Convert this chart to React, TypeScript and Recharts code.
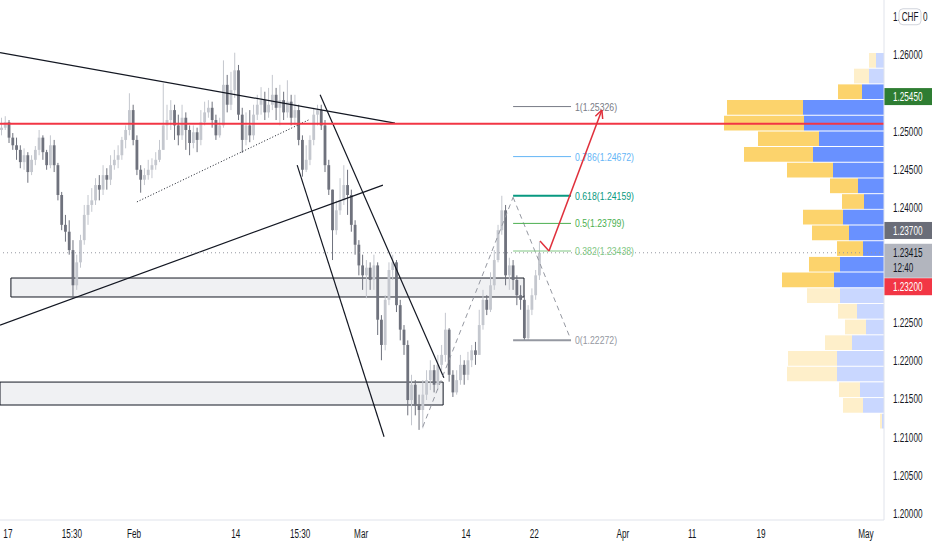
import React from 'react';
import { ComposedChart, Bar, XAxis, YAxis, ReferenceLine, ReferenceArea } from 'recharts';

// GBPCHF candles (close / high / low), open = previous close
const firstOpen = 1.2502;
const closes = [
  1.2505, 1.2512, 1.2492, 1.2482, 1.2476, 1.246, 1.2469, 1.2447, 1.2463, 1.2476,
  1.2492, 1.2473, 1.2456, 1.2482, 1.2456, 1.2417, 1.2378, 1.2369, 1.2345, 1.2299,
  1.2329, 1.2358, 1.2391, 1.2404, 1.241, 1.243, 1.2424, 1.2443, 1.2437, 1.2456,
  1.2463, 1.2469, 1.2489, 1.2502, 1.2528, 1.2489, 1.245, 1.2437, 1.2443, 1.245,
  1.2456, 1.2463, 1.2476, 1.2508, 1.2515, 1.2528, 1.2508, 1.2495, 1.2518, 1.2502,
  1.2485, 1.2499, 1.2489, 1.2512, 1.2525, 1.2531, 1.2515, 1.2495, 1.2508, 1.2561,
  1.2535, 1.2554, 1.258, 1.2522, 1.2489, 1.2508, 1.2495, 1.2522, 1.2535, 1.2541,
  1.2525, 1.2535, 1.2548, 1.2531, 1.2541, 1.2525, 1.2539, 1.2518, 1.2528, 1.2489,
  1.245, 1.2463, 1.2489, 1.2522, 1.2528, 1.2508, 1.2456, 1.2424, 1.2371, 1.2397,
  1.241, 1.243, 1.2417, 1.2378, 1.2352, 1.2325, 1.2312, 1.2322, 1.2306, 1.2325,
  1.2254, 1.2221, 1.228, 1.2319, 1.2329, 1.2273, 1.2241, 1.2221, 1.2149, 1.2169,
  1.2142, 1.2136, 1.2156, 1.2175, 1.2188, 1.2169, 1.2195, 1.2208, 1.2241, 1.2182,
  1.2159, 1.2175, 1.2195, 1.2182, 1.2201, 1.2214, 1.2208, 1.2247, 1.228, 1.2267,
  1.2299, 1.2332, 1.2371, 1.2397, 1.2312, 1.2325, 1.2306, 1.2286, 1.228, 1.223,
  1.2267, 1.2286, 1.2312, 1.23415,
];
const highs = [
  1.2518, 1.252, 1.2515, 1.2498, 1.2492, 1.2482, 1.2478, 1.2473, 1.2469, 1.2481,
  1.2502, 1.2495, 1.2476, 1.2495, 1.2489, 1.2459, 1.2421, 1.2391, 1.2384, 1.2358,
  1.2339, 1.2365, 1.2404, 1.2417, 1.2426, 1.2439, 1.2443, 1.2456, 1.2452, 1.2469,
  1.2476, 1.2482, 1.2493, 1.2508, 1.255, 1.2535, 1.2495, 1.2456, 1.2452, 1.2463,
  1.2465, 1.2473, 1.2489, 1.2563, 1.2535, 1.2541, 1.2535, 1.2522, 1.2535, 1.2525,
  1.2508, 1.2508, 1.2505, 1.2528, 1.2539, 1.2541, 1.2539, 1.2522, 1.2518, 1.2593,
  1.2574, 1.2578, 1.2603, 1.2587, 1.2531, 1.2525, 1.2528, 1.2535, 1.2548, 1.2558,
  1.2552, 1.2557, 1.2574, 1.2557, 1.2561, 1.2552, 1.2567, 1.2548, 1.2548, 1.2535,
  1.2495, 1.2482, 1.2495, 1.2531, 1.2535, 1.2535, 1.2515, 1.2463, 1.2424, 1.241,
  1.2439, 1.2456, 1.245, 1.2424, 1.2384, 1.2358, 1.2339, 1.2332, 1.2329, 1.2339,
  1.2329, 1.226, 1.2286, 1.2329, 1.2339, 1.2332, 1.228, 1.2247, 1.2227, 1.2182,
  1.2175, 1.2156, 1.2175, 1.2188, 1.2201, 1.2195, 1.2208, 1.2221, 1.2263, 1.2243,
  1.2188, 1.2188, 1.2208, 1.2201, 1.2212, 1.2221, 1.2225, 1.2267, 1.2293, 1.2286,
  1.2316, 1.2345, 1.2378, 1.2416, 1.2404, 1.2335, 1.2332, 1.2312, 1.2299, 1.2286,
  1.2273, 1.2295, 1.2319, 1.2356,
];
const lows = [
  1.2495, 1.2502, 1.2485, 1.2476, 1.2463, 1.2452, 1.245, 1.2433, 1.2443, 1.2456,
  1.2469, 1.2463, 1.245, 1.2452, 1.2447, 1.241, 1.2371, 1.2356, 1.2339, 1.2282,
  1.2293, 1.2322, 1.2352, 1.2378, 1.2395, 1.2404, 1.241, 1.2417, 1.2424, 1.243,
  1.245, 1.2452, 1.2463, 1.2478, 1.2495, 1.2482, 1.2443, 1.242, 1.243, 1.2437,
  1.2439, 1.245, 1.246, 1.2476, 1.2489, 1.2502, 1.2489, 1.2482, 1.2489, 1.2476,
  1.2469, 1.2478, 1.2473, 1.2482, 1.2508, 1.2518, 1.2505, 1.2489, 1.2492, 1.2505,
  1.2525, 1.2528, 1.2544, 1.2515, 1.2472, 1.2482, 1.2486, 1.2489, 1.2515, 1.2522,
  1.2515, 1.2518, 1.2528, 1.2515, 1.2508, 1.2515, 1.2518, 1.2508, 1.2508, 1.2482,
  1.2441, 1.2447, 1.2456, 1.2482, 1.2508, 1.2502, 1.2447, 1.2417, 1.2332, 1.2365,
  1.2391, 1.2404, 1.2391, 1.2369, 1.2339, 1.2312, 1.2293, 1.2282, 1.2293, 1.2293,
  1.2234, 1.2201, 1.2214, 1.2273, 1.2306, 1.2264, 1.2227, 1.2208, 1.2129, 1.2116,
  1.2129, 1.211, 1.2112, 1.2149, 1.2162, 1.2159, 1.2162, 1.2188, 1.2199, 1.2173,
  1.2153, 1.2156, 1.2169, 1.2169, 1.2175, 1.2192, 1.2195, 1.2212, 1.2241, 1.226,
  1.2264, 1.2293, 1.2329, 1.2365, 1.2299, 1.2293, 1.2293, 1.2273, 1.2267, 1.2227,
  1.2227, 1.226, 1.228, 1.2306,
];

const dateTicks = [1.6, 18.6, 35.1, 62.2, 79.3, 95.5, 123.4, 141.5, 165.1, 183.5, 201.8, 229.7];
const dateLabels = ['17', '15:30', 'Feb', '14', '15:30', 'Mar', '14', '22', 'Apr', '11', '19', 'May'];
const priceTicks = [1.2, 1.205, 1.21, 1.215, 1.22, 1.225, 1.23, 1.235, 1.24, 1.245, 1.25, 1.255, 1.26, 1.265];

// fibonacci retracement
const fibRatios = ['1', '0.786', '0.618', '0.5', '0.382', '0'];
const fibPrices = [1.25326, 1.24672, 1.24159, 1.23799, 1.23438, 1.22272];
const fibColors = ['#787b86', '#64b5f6', '#089981', '#4caf50', '#81c784', '#9598a1'];
const fibWidths = [1, 1, 2, 1, 1, 2];
const fibFrom = 135.9;
const fibTo = 151.3;

// drawings, in bar index / price
const trendLines = [
  { x1: -0.5, p1: 1.2603, x2: 104.5, p2: 1.2511 },
  { x1: -0.5, p1: 1.2247, x2: 101.3, p2: 1.243 },
  { x1: 78.5, p1: 1.2456, x2: 101.6, p2: 1.2101 },
  { x1: 84.6, p1: 1.2548, x2: 117.5, p2: 1.2178 },
];
const dottedLine = { x1: 35.9, p1: 1.2408, x2: 81.9, p2: 1.2516 };
const zigzag = [
  { x: 111.9, p: 1.2114 },
  { x: 135.9, p: 1.2414 },
  { x: 151.0, p: 1.2231 },
];
const arrowPath = [
  { x: 143.05, p: 1.23569 },
  { x: 145.45, p: 1.23438 },
  { x: 159.5, p: 1.25281 },
];
const zones = [
  { x1: 2.4, x2: 138.8, p1: 1.22837, p2: 1.23085 },
  { x1: -0.5, x2: 117.3, p1: 1.21425, p2: 1.21725 },
];
const resistance = 1.251;
const lastPrice = 1.23415;

// volume profile rows, top to bottom
const vpTop = 1.26026;
const vpStep = 0.00205;
const vpUp = [8, 15, 22, 81, 80, 65, 71, 51, 26, 20, 41, 35, 21, 44, 50, 44, 27, 18, 32, 47, 47, 24, 21, 2];
const vpDown = [7, 15, 24, 76, 80, 61, 69, 46, 28, 22, 40, 37, 26, 31, 52, 33, 19, 21, 27, 49, 50, 21, 20, 2];
const vaHigh = 1.2561;
const vaLow = 1.2295;

// price labels on the axis (shift = pushed down by the label above, in px)
const badges = [
  { price: 1.2545, text: '1.25450', bg: '#2e7d32', fg: '#ffffff', shift: 0 },
  { price: 1.237, text: '1.23700', bg: '#6a6d78', fg: '#ffffff', shift: 0 },
  { price: 1.23415, text: '1.23415', sub: '12:40', bg: '#b2b5be', fg: '#131722', shift: 0 },
  { price: 1.232, text: '1.23200', bg: '#f23645', fg: '#ffffff', shift: 18 },
];

const X_MIN = -0.5;
const X_MAX = 234.5;
const Y_MIN = 1.19922;
const Y_MAX = 1.26719;
const PLOT_H = 520;
const VP_SCALE = 235 / 884;

const candles = closes.map((c, i) => {
  const o = i === 0 ? firstOpen : closes[i - 1];
  const h = Math.max(highs[i], o, c);
  const l = Math.min(lows[i], o, c);
  return { i, o, h, l, c, range: [l, h] };
});

const FONT = "'Liberation Sans', Arial, sans-serif";

function SqText({ x, y, children, fill = '#131722', size = 12, anchor = 'start', sx = 0.68 }: any) {
  return (
    <g transform={`translate(${x},${y}) scale(${sx},1)`}>
      <text x={0} y={0} fontSize={size} fill={fill} textAnchor={anchor} fontFamily={FONT}>
        {children}
      </text>
    </g>
  );
}

const Candle = (props: any) => {
  const { x, y, width, height, payload } = props;
  const { o, h, l, c } = payload;
  const top = Math.min(y, y + height);
  const hh = Math.abs(height);
  const k = h > l ? hh / (h - l) : 0;
  const cx = x + width / 2;
  const bTop = top + (h - Math.max(o, c)) * k;
  const bBot = top + (h - Math.min(o, c)) * k;
  const col = c >= o ? '#c4c7ce' : '#6f727d';
  return (
    <g>
      <line x1={cx} x2={cx} y1={top} y2={top + hh} stroke={col} strokeWidth={1} />
      <rect x={cx - 1.4} y={bTop} width={2.8} height={Math.max(1, bBot - bTop)} fill={col} />
    </g>
  );
};

const XTick = (props: any) => {
  const { x, y, payload } = props;
  const idx = dateTicks.indexOf(payload.value);
  return <SqText x={x} y={y + 10} anchor="middle">{dateLabels[idx]}</SqText>;
};

// hide tick labels that sit under a price badge
const pricePerPx = (Y_MAX - Y_MIN) / PLOT_H;
const coveredByBadge = (v: number) =>
  badges.some((b) => {
    const centre = b.price - b.shift * pricePerPx;
    const below = b.sub ? 24 : 8;
    return v < centre + 11 * pricePerPx && v > centre - (below + 6) * pricePerPx;
  });

const YTick = (props: any) => {
  const { x, y, payload } = props;
  if (coveredByBadge(payload.value)) return <g />;
  if (payload.value > 1.2625) {
    return (
      <g>
        <SqText x={x + 1} y={y + 4}>1.</SqText>
        <rect x={x + 7} y={y - 8} width={22} height={16} rx={4} fill="#ffffff" stroke="#d1d4dc" />
        <SqText x={x + 18} y={y + 4} anchor="middle">CHF</SqText>
        <SqText x={x + 31} y={y + 4}>0</SqText>
      </g>
    );
  }
  return <SqText x={x + 1} y={y + 4}>{payload.value.toFixed(5)}</SqText>;
};

const ArrowLine = (props: any) => {
  const { x1, y1, x2, y2, stroke } = props;
  const a = Math.atan2(y2 - y1, x2 - x1);
  const len = 9;
  const l1 = a + Math.PI - 0.45;
  const l2 = a + Math.PI + 0.45;
  return (
    <g>
      <line x1={x1} y1={y1} x2={x2} y2={y2} stroke={stroke} strokeWidth={1.5} />
      <line x1={x2} y1={y2} x2={x2 + len * Math.cos(l1)} y2={y2 + len * Math.sin(l1)} stroke={stroke} strokeWidth={1.5} />
      <line x1={x2} y1={y2} x2={x2 + len * Math.cos(l2)} y2={y2 + len * Math.sin(l2)} stroke={stroke} strokeWidth={1.5} />
    </g>
  );
};

const badgeLabel = (b: any) => (props: any) => {
  const { viewBox } = props;
  const bx = viewBox.x + viewBox.width;
  const by = viewBox.y + b.shift;
  const h = b.sub ? 34 : 17;
  return (
    <g>
      <rect x={bx} y={by - 9} width={48} height={h} fill={b.bg} />
      <SqText x={bx + 9} y={by + 4} fill={b.fg}>{b.text}</SqText>
      {b.sub && <SqText x={bx + 9} y={by + 19} fill={b.fg}>{b.sub}</SqText>}
    </g>
  );
};

export default function App() {
  return (
    <div style={{ position: 'absolute', left: 0, top: 0, width: 932, height: 550, background: '#ffffff' }}>
      <ComposedChart width={932} height={550} data={candles} margin={{ top: 0, right: 0, bottom: 0, left: 0 }}>
        <XAxis
          dataKey="i"
          type="number"
          domain={[X_MIN, X_MAX]}
          allowDataOverflow
          ticks={dateTicks}
          interval={0}
          tick={<XTick />}
          tickLine={false}
          axisLine={{ stroke: '#e0e3eb' }}
          height={30}
        />
        <YAxis
          orientation="right"
          type="number"
          domain={[Y_MIN, Y_MAX]}
          allowDataOverflow
          ticks={priceTicks}
          interval={0}
          tick={<YTick />}
          tickLine={false}
          axisLine={{ stroke: '#e0e3eb' }}
          width={48}
        />

        {zones.map((z, k) => (
          <ReferenceArea key={`z${k}`} x1={z.x1} x2={z.x2} y1={z.p1} y2={z.p2} fill="#f0f1f3" fillOpacity={1} stroke="#131722" strokeWidth={1} />
        ))}

        {vpUp.map((up, k) => {
          const hi = vpTop - k * vpStep;
          const lo = hi - vpStep + 0.00013;
          const solid = hi <= vaHigh + 0.0005 && lo >= vaLow - 0.0005;
          const upLeft = X_MAX - up * VP_SCALE;
          const downLeft = upLeft - vpDown[k] * VP_SCALE;
          return (
            <React.Fragment key={`vp${k}`}>
              <ReferenceArea x1={downLeft} x2={upLeft} y1={lo} y2={hi} fill={solid ? '#fcd36c' : '#feefca'} fillOpacity={1} />
              <ReferenceArea x1={upLeft} x2={X_MAX} y1={lo} y2={hi} fill={solid ? '#6991ff' : '#c9d7ff'} fillOpacity={1} />
            </React.Fragment>
          );
        })}

        {trendLines.map((t, k) => (
          <ReferenceLine key={`t${k}`} segment={[{ x: t.x1, y: t.p1 }, { x: t.x2, y: t.p2 }]} stroke="#131722" strokeWidth={1.2} />
        ))}
        <ReferenceLine
          segment={[{ x: dottedLine.x1, y: dottedLine.p1 }, { x: dottedLine.x2, y: dottedLine.p2 }]}
          stroke="#131722"
          strokeWidth={1}
          strokeDasharray="1 2"
        />

        <Bar dataKey="range" shape={<Candle />} barSize={3} isAnimationActive={false} />

        <ReferenceLine y={resistance} stroke="#f23645" strokeWidth={2} />
        <ReferenceLine y={lastPrice} stroke="#9598a1" strokeWidth={1} strokeDasharray="1 3" />

        {zigzag.slice(1).map((pt, k) => (
          <ReferenceLine
            key={`zz${k}`}
            segment={[{ x: zigzag[k].x, y: zigzag[k].p }, { x: pt.x, y: pt.p }]}
            stroke="#9598a1"
            strokeWidth={1}
            strokeDasharray="5 4"
          />
        ))}

        {fibPrices.map((p, k) => (
          <ReferenceLine
            key={`f${k}`}
            segment={[{ x: fibFrom, y: p }, { x: fibTo, y: p }]}
            stroke={fibColors[k]}
            strokeWidth={fibWidths[k]}
            label={(props: any) => (
              <SqText
                x={props.viewBox.x + props.viewBox.width + 4}
                y={props.viewBox.y + 4}
                fill={fibColors[k]}
                size={11}
                sx={0.79}
              >
                {`${fibRatios[k]}(${p.toFixed(5)})`}
              </SqText>
            )}
          />
        ))}

        <ReferenceLine
          segment={[{ x: arrowPath[0].x, y: arrowPath[0].p }, { x: arrowPath[1].x, y: arrowPath[1].p }]}
          stroke="#e0303c"
          strokeWidth={1.5}
        />
        <ReferenceLine
          segment={[{ x: arrowPath[1].x, y: arrowPath[1].p }, { x: arrowPath[2].x, y: arrowPath[2].p }]}
          stroke="#e0303c"
          shape={<ArrowLine />}
        />

        {badges.map((b, k) => (
          <ReferenceLine key={`b${k}`} y={b.price} stroke="none" label={badgeLabel(b)} />
        ))}
      </ComposedChart>
    </div>
  );
}
